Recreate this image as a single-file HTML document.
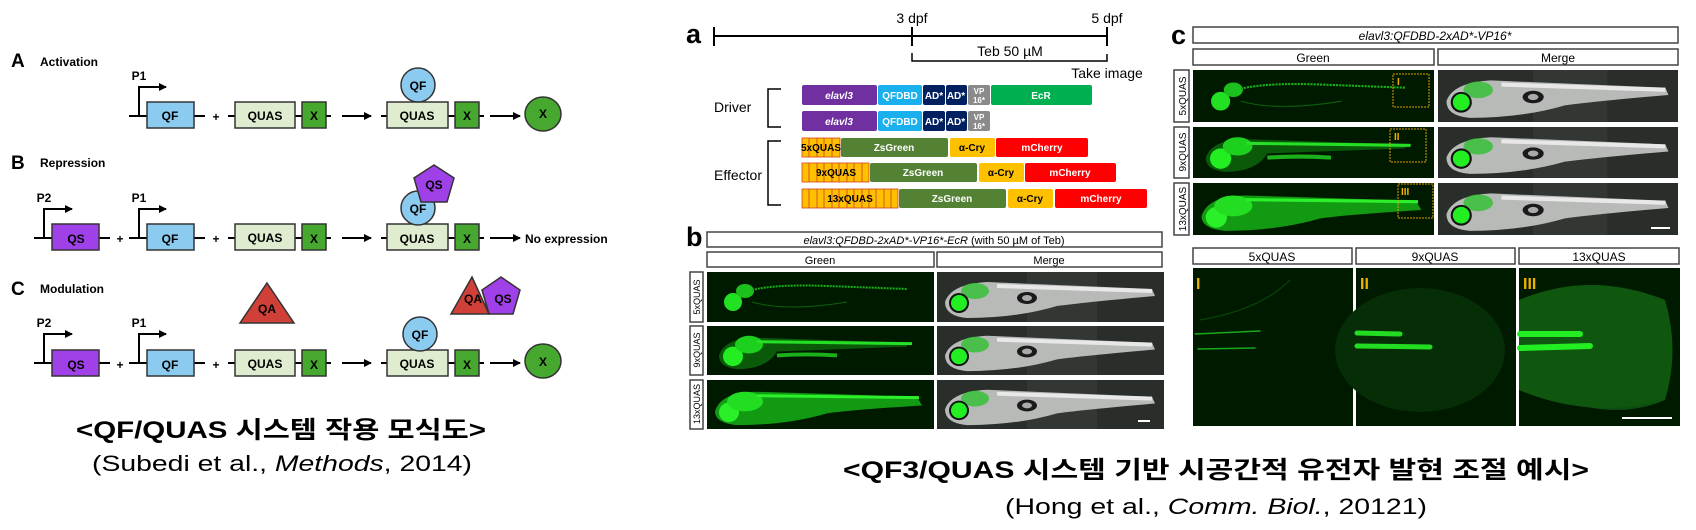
<!DOCTYPE html>
<html><head><meta charset="utf-8"><style>
html,body{margin:0;padding:0;background:#fff;}
svg{display:block;}
.t{font-family:"Liberation Sans","Noto Sans CJK KR",sans-serif;}
.b{font-weight:bold;}
</style></head><body>
<svg width="1696" height="530" viewBox="0 0 1696 530" xmlns="http://www.w3.org/2000/svg" class="t">
<defs>
<marker id="ah" markerWidth="8" markerHeight="8" refX="7" refY="4" orient="auto" markerUnits="userSpaceOnUse"><path d="M0,0 L8,4 L0,8 Z" fill="#000"/></marker>
<symbol id="g5" viewBox="0 0 227 50" preserveAspectRatio="none">
<rect width="227" height="50" fill="#001a00"/>
<circle cx="26" cy="30" r="9" fill="#22e022"/>
<ellipse cx="38" cy="19" rx="9" ry="7" fill="#1cc01c"/>
<path d="M45,18 Q70,12 120,14 L200,17" stroke="#18b018" stroke-width="2" fill="none" stroke-dasharray="2 1"/>
<path d="M45,30 Q80,40 140,30" stroke="#0c600c" stroke-width="1" fill="none"/>
</symbol>
<symbol id="g9" viewBox="0 0 227 50" preserveAspectRatio="none">
<rect width="227" height="50" fill="#001a00"/>
<path d="M12,30 Q18,12 50,12 L200,17 L200,21 Q120,24 70,26 Q60,44 30,44 Q12,42 12,30Z" fill="#0a5a0a"/>
<circle cx="26" cy="31" r="10" fill="#22ee22"/>
<ellipse cx="42" cy="19" rx="14" ry="9" fill="#1ed01e"/>
<path d="M50,16 L205,18" stroke="#26e026" stroke-width="3" fill="none"/>
<path d="M70,30 Q100,28 130,30" stroke="#1cb01c" stroke-width="4" fill="none"/>
</symbol>
<symbol id="g13" viewBox="0 0 227 50" preserveAspectRatio="none">
<rect width="227" height="50" fill="#001a00"/>
<path d="M8,32 Q14,12 50,12 L210,17 L215,26 Q150,30 120,34 Q80,46 30,46 Q8,44 8,32Z" fill="#129a12"/>
<circle cx="22" cy="33" r="10" fill="#2af02a"/>
<ellipse cx="38" cy="22" rx="18" ry="10" fill="#22dd22"/>
<path d="M50,16 L212,18" stroke="#2cf02c" stroke-width="3" fill="none"/>
</symbol>
<symbol id="mg" viewBox="0 0 227 50" preserveAspectRatio="none">
<rect width="227" height="50" fill="#2a2e2a"/>
<rect x="90" width="70" height="50" fill="#333733"/>
<path d="M8,30 Q14,12 50,10 L215,17 L218,24 Q150,30 120,34 Q80,46 30,46 Q8,44 8,30Z" fill="#b8bab8"/>
<path d="M60,14 L215,19" stroke="#e8e8e8" stroke-width="4" fill="none"/>
<ellipse cx="90" cy="26" rx="10" ry="6" fill="#1a1a1a"/>
<ellipse cx="90" cy="26" rx="5" ry="3" fill="#aaa"/>
<ellipse cx="38" cy="19" rx="14" ry="8" fill="#30c030" opacity="0.8"/>
<circle cx="22" cy="31" r="10" fill="#111"/>
<circle cx="22" cy="31" r="8" fill="#22ee22"/>
</symbol>
</defs>

<!-- ===== Left diagram ===== -->
<g class="b">
<text x="11" y="67" font-size="19">A</text><text x="40" y="66" font-size="12">Activation</text>
<text x="11" y="169" font-size="19">B</text><text x="40" y="167" font-size="12">Repression</text>
<text x="11" y="295" font-size="19">C</text><text x="40" y="293" font-size="12">Modulation</text>
</g>

<!-- Row A y=116 -->
<g stroke="#000" stroke-width="2" fill="none">
<path d="M129,116 H147 M194,116 H205 M228,116 H235 M295,116 H302 M326,116 H331 M381,116 H387 M448,116 H455 M479,116 H484"/>
<path d="M139,116 V87 H166" marker-end="url(#ah)"/>
<path d="M342,116 H371" marker-end="url(#ah)"/>
<path d="M490,116 H520" marker-end="url(#ah)"/>
</g>
<g stroke="#333" stroke-width="1.5">
<rect x="147" y="102" width="47" height="26" fill="#8ccbf0"/>
<rect x="235" y="102" width="60" height="26" fill="#dfecd0"/>
<rect x="302" y="102" width="24" height="26" fill="#46a82e"/>
<rect x="387" y="102" width="61" height="26" fill="#dfecd0"/>
<rect x="455" y="102" width="24" height="26" fill="#46a82e"/>
<circle cx="418" cy="85" r="17" fill="#8ccbf0"/>
<ellipse cx="543" cy="114" rx="18" ry="17" fill="#46a82e"/>
</g>
<g class="b" font-size="12" text-anchor="middle">
<text x="139" y="80">P1</text>
<text x="170" y="120">QF</text><text x="216" y="121">+</text>
<text x="265" y="120">QUAS</text><text x="314" y="120">X</text>
<text x="417" y="120">QUAS</text><text x="467" y="120">X</text>
<text x="418" y="90">QF</text><text x="543" y="118">X</text>
</g>

<!-- Row B y=238 -->
<g stroke="#000" stroke-width="2" fill="none">
<path d="M34,238 H52 M99,238 H110 M129,238 H147 M194,238 H205 M228,238 H235 M295,238 H302 M326,238 H331 M381,238 H387 M448,238 H455 M479,238 H484"/>
<path d="M44,238 V209 H72" marker-end="url(#ah)"/>
<path d="M139,238 V209 H166" marker-end="url(#ah)"/>
<path d="M342,238 H371" marker-end="url(#ah)"/>
<path d="M490,238 H520" marker-end="url(#ah)"/>
</g>
<g stroke="#333" stroke-width="1.5">
<rect x="52" y="224" width="47" height="26" fill="#a040e8"/>
<rect x="147" y="224" width="47" height="26" fill="#8ccbf0"/>
<rect x="235" y="224" width="60" height="26" fill="#dfecd0"/>
<rect x="302" y="224" width="24" height="26" fill="#46a82e"/>
<rect x="387" y="224" width="61" height="26" fill="#dfecd0"/>
<rect x="455" y="224" width="24" height="26" fill="#46a82e"/>
<circle cx="418" cy="208" r="17" fill="#8ccbf0"/>
<polygon points="434,165 454,178 447,202 421,202 414,178" fill="#a040e8"/>
</g>
<g class="b" font-size="12" text-anchor="middle">
<text x="44" y="202">P2</text><text x="139" y="202">P1</text>
<text x="76" y="243">QS</text><text x="120" y="243">+</text>
<text x="170" y="243">QF</text><text x="216" y="243">+</text>
<text x="265" y="242">QUAS</text><text x="314" y="243">X</text>
<text x="417" y="243">QUAS</text><text x="467" y="243">X</text>
<text x="418" y="213">QF</text><text x="434" y="189">QS</text>
<text x="525" y="243" text-anchor="start">No expression</text>
</g>

<!-- Row C y=363 -->
<g stroke="#000" stroke-width="2" fill="none">
<path d="M34,363 H52 M99,363 H110 M129,363 H147 M194,363 H205 M228,363 H235 M295,363 H302 M326,363 H331 M381,363 H387 M448,363 H455 M479,363 H484"/>
<path d="M44,363 V334 H72" marker-end="url(#ah)"/>
<path d="M139,363 V334 H166" marker-end="url(#ah)"/>
<path d="M342,363 H371" marker-end="url(#ah)"/>
<path d="M490,363 H520" marker-end="url(#ah)"/>
</g>
<g stroke="#333" stroke-width="1.5">
<rect x="52" y="350" width="47" height="26" fill="#a040e8"/>
<rect x="147" y="350" width="47" height="26" fill="#8ccbf0"/>
<rect x="235" y="350" width="60" height="26" fill="#dfecd0"/>
<rect x="302" y="350" width="24" height="26" fill="#46a82e"/>
<rect x="387" y="350" width="61" height="26" fill="#dfecd0"/>
<rect x="455" y="350" width="24" height="26" fill="#46a82e"/>
<circle cx="420" cy="334" r="17" fill="#8ccbf0"/>
<ellipse cx="543" cy="361" rx="18" ry="17" fill="#46a82e"/>
<polygon points="267,283 294,323 240,323" fill="#d04038"/>
<polygon points="501,277 520,290 513,314 489,314 482,290" fill="#a040e8"/>
<polygon points="472,277 489,314 451,314" fill="#d04038"/>
</g>
<g class="b" font-size="12" text-anchor="middle">
<text x="44" y="327">P2</text><text x="139" y="327">P1</text>
<text x="76" y="369">QS</text><text x="120" y="369">+</text>
<text x="170" y="369">QF</text><text x="216" y="369">+</text>
<text x="265" y="368">QUAS</text><text x="314" y="369">X</text>
<text x="417" y="368">QUAS</text><text x="467" y="369">X</text>
<text x="420" y="339">QF</text><text x="543" y="366">X</text>
<text x="267" y="313">QA</text><text x="473" y="303">QA</text><text x="503" y="303">QS</text>
</g>

<!-- Captions -->
<text x="76" y="438" font-size="24" class="b" textLength="410" lengthAdjust="spacingAndGlyphs">&lt;QF/QUAS 시스템 작용 모식도&gt;</text>
<text x="92" y="471" font-size="22" textLength="380" lengthAdjust="spacingAndGlyphs">(Subedi et al., <tspan font-style="italic">Methods</tspan>, 2014)</text>
<text x="843" y="478" font-size="24" class="b" textLength="746" lengthAdjust="spacingAndGlyphs">&lt;QF3/QUAS 시스템 기반 시공간적 유전자 발현 조절 예시&gt;</text>
<text x="1005" y="514" font-size="22" textLength="422" lengthAdjust="spacingAndGlyphs">(Hong et al., <tspan font-style="italic">Comm. Biol.</tspan>, 20121)</text>

<!-- ===== Panel a ===== -->
<text x="686" y="43" font-size="27" class="b">a</text>
<g stroke="#000" stroke-width="2" fill="none">
<path d="M714,36 H1107 M714,27 V46 M912,27 V46 M1107,27 V46"/>
<path d="M912,53 V61 H1107 V54" stroke-width="1.5"/>
<path d="M781,89 H768 V127 H781" stroke-width="1.5"/>
<path d="M781,141 H768 V205 H781" stroke-width="1.5"/>
</g>
<g font-size="14" text-anchor="middle">
<text x="912" y="23">3 dpf</text><text x="1107" y="23">5 dpf</text>
<text x="1010" y="56">Teb 50 µM</text>
<text x="1107" y="78">Take image</text>
<text x="714" y="112" text-anchor="start">Driver</text>
<text x="714" y="180" text-anchor="start">Effector</text>
</g>
<g>
<rect x="802" y="85" width="75" height="20" rx="2" fill="#7030a0"/>
<rect x="878" y="85" width="44" height="20" rx="2" fill="#1ab0ee"/>
<rect x="923" y="85" width="22" height="20" rx="2" fill="#002060"/>
<rect x="946" y="85" width="21" height="20" rx="2" fill="#002060"/>
<rect x="968" y="85" width="22" height="20" rx="2" fill="#8a8a8a"/>
<rect x="991" y="85" width="101" height="20" rx="2" fill="#00b050"/>
<rect x="802" y="111" width="75" height="20" rx="2" fill="#7030a0"/>
<rect x="878" y="111" width="44" height="20" rx="2" fill="#1ab0ee"/>
<rect x="923" y="111" width="22" height="20" rx="2" fill="#002060"/>
<rect x="946" y="111" width="21" height="20" rx="2" fill="#002060"/>
<rect x="968" y="111" width="22" height="20" rx="2" fill="#8a8a8a"/>
</g>
<g fill="#fff" font-size="10" class="b" text-anchor="middle">
<text x="839" y="99" font-style="italic">elavl3</text><text x="900" y="99">QFDBD</text><text x="934" y="99">AD*</text><text x="956" y="99">AD*</text>
<text x="979" y="94" font-size="8">VP</text><text x="979" y="103" font-size="8">16*</text><text x="1041" y="99">EcR</text>
<text x="839" y="125" font-style="italic">elavl3</text><text x="900" y="125">QFDBD</text><text x="934" y="125">AD*</text><text x="956" y="125">AD*</text>
<text x="979" y="120" font-size="8">VP</text><text x="979" y="129" font-size="8">16*</text>
</g>
<!-- effector rows -->
<g>
<rect x="802" y="138" width="38" height="19" fill="#ffc000" stroke="#d04020" stroke-width="0.8"/>
<path d="M809,138V157M817,138V157M824,138V157M832,138V157" stroke="#d04020" stroke-width="0.8"/>
<rect x="841" y="138" width="107" height="19" rx="2" fill="#548235"/>
<rect x="950" y="138" width="45" height="19" rx="2" fill="#ffc000"/>
<rect x="996" y="138" width="92" height="19" rx="2" fill="#ff0000"/>
<rect x="802" y="163" width="67" height="19" fill="#ffc000" stroke="#d04020" stroke-width="0.8"/>
<path d="M809,163V182M817,163V182M824,163V182M832,163V182M839,163V182M847,163V182M854,163V182M862,163V182" stroke="#d04020" stroke-width="0.8"/>
<rect x="870" y="163" width="107" height="19" rx="2" fill="#548235"/>
<rect x="979" y="163" width="45" height="19" rx="2" fill="#ffc000"/>
<rect x="1025" y="163" width="91" height="19" rx="2" fill="#ff0000"/>
<rect x="802" y="189" width="96" height="19" fill="#ffc000" stroke="#d04020" stroke-width="0.8"/>
<path d="M809,189V208M817,189V208M824,189V208M832,189V208M839,189V208M847,189V208M854,189V208M862,189V208M869,189V208M876,189V208M884,189V208M891,189V208" stroke="#d04020" stroke-width="0.8"/>
<rect x="899" y="189" width="107" height="19" rx="2" fill="#548235"/>
<rect x="1008" y="189" width="45" height="19" rx="2" fill="#ffc000"/>
<rect x="1055" y="189" width="92" height="19" rx="2" fill="#ff0000"/>
</g>
<g font-size="10" class="b" text-anchor="middle">
<text x="821" y="151">5xQUAS</text><text x="836" y="176">9xQUAS</text><text x="850" y="202">13xQUAS</text>
<g fill="#fff"><text x="894" y="151">ZsGreen</text><text x="923" y="176">ZsGreen</text><text x="952" y="202">ZsGreen</text>
<text x="1042" y="151">mCherry</text><text x="1070" y="176">mCherry</text><text x="1101" y="202">mCherry</text></g>
<text x="972" y="151">α-Cry</text><text x="1001" y="176">α-Cry</text><text x="1030" y="202">α-Cry</text>
</g>

<!-- ===== Panel b ===== -->
<text x="686" y="246" font-size="27" class="b">b</text>
<g fill="#fff" stroke="#444" stroke-width="1.5">
<rect x="707" y="232" width="455" height="15"/>
<rect x="707" y="252" width="227" height="15"/>
<rect x="937" y="252" width="225" height="15"/>
<rect x="690" y="272" width="13" height="50"/>
<rect x="690" y="326" width="13" height="49"/>
<rect x="690" y="380" width="13" height="49"/>
</g>
<g font-size="11" text-anchor="middle">
<text x="934" y="244"><tspan font-style="italic">elavl3:QFDBD-2xAD*-VP16*-EcR</tspan> (with 50 µM of Teb)</text>
<text x="820" y="264">Green</text><text x="1049" y="264">Merge</text>
<text transform="translate(700,297) rotate(-90)" font-size="9">5xQUAS</text>
<text transform="translate(700,350) rotate(-90)" font-size="9">9xQUAS</text>
<text transform="translate(700,404) rotate(-90)" font-size="9">13xQUAS</text>
</g>
<use href="#g5" x="707" y="272" width="227" height="50"/>
<use href="#g9" x="707" y="326" width="227" height="49"/>
<use href="#g13" x="707" y="380" width="227" height="49"/>
<use href="#mg" x="937" y="272" width="227" height="50"/>
<use href="#mg" x="937" y="326" width="227" height="49"/>
<use href="#mg" x="937" y="380" width="227" height="49"/>
<rect x="1138" y="420" width="12" height="2" fill="#fff"/>

<!-- ===== Panel c ===== -->
<text x="1171" y="44" font-size="27" class="b">c</text>
<g fill="#fff" stroke="#444" stroke-width="1.5">
<rect x="1193" y="27" width="485" height="16"/>
<rect x="1193" y="49" width="241" height="16"/>
<rect x="1438" y="49" width="240" height="16"/>
<rect x="1174" y="70" width="15" height="52"/>
<rect x="1174" y="127" width="15" height="51"/>
<rect x="1174" y="183" width="15" height="52"/>
<rect x="1193" y="248" width="159" height="16"/>
<rect x="1356" y="248" width="159" height="16"/>
<rect x="1519" y="248" width="160" height="16"/>
</g>
<g font-size="12" text-anchor="middle">
<text x="1435" y="40" font-style="italic">elavl3:QFDBD-2xAD*-VP16*</text>
<text x="1313" y="62">Green</text><text x="1558" y="62">Merge</text>
<text transform="translate(1186,96) rotate(-90)" font-size="10">5xQUAS</text>
<text transform="translate(1186,152) rotate(-90)" font-size="10">9xQUAS</text>
<text transform="translate(1186,209) rotate(-90)" font-size="10">13xQUAS</text>
<text x="1272" y="261">5xQUAS</text><text x="1435" y="261">9xQUAS</text><text x="1599" y="261">13xQUAS</text>
</g>
<use href="#g5" x="1193" y="70" width="241" height="52"/>
<use href="#g9" x="1193" y="127" width="241" height="51"/>
<use href="#g13" x="1193" y="183" width="241" height="52"/>
<use href="#mg" x="1438" y="70" width="240" height="52"/>
<use href="#mg" x="1438" y="127" width="240" height="51"/>
<use href="#mg" x="1438" y="183" width="240" height="52"/>
<rect x="1651" y="227" width="19" height="2" fill="#fff"/>
<g fill="none" stroke="#e0a000" stroke-width="1" stroke-dasharray="2 1">
<rect x="1393" y="74" width="36" height="33"/>
<rect x="1390" y="129" width="36" height="33"/>
<rect x="1398" y="184" width="35" height="34"/>
</g>
<g fill="#f0b000" font-size="10" class="b" font-family="'Liberation Sans',sans-serif">
<text x="1397" y="85">I</text><text x="1394" y="140">II</text><text x="1401" y="195">III</text>
</g>
<!-- bottom zooms -->
<rect x="1193" y="268" width="160" height="158" fill="#001a00"/>
<rect x="1356" y="268" width="160" height="158" fill="#001a00"/>
<rect x="1519" y="268" width="161" height="158" fill="#001a00"/>
<g fill="none" stroke-linecap="round">
<path d="M1195,334 L1260,331 M1198,349 L1255,348" stroke="#18a818" stroke-width="1.5"/>
<path d="M1200,320 Q1260,310 1290,280" stroke="#0a4a0a" stroke-width="1"/>
<path d="M1400,290 Q1460,300 1480,350 Q1460,400 1400,410" stroke="#0c4a0c" stroke-width="1"/>
<ellipse cx="1420" cy="350" rx="85" ry="62" fill="#062e06"/>
<path d="M1357,333 L1400,334 M1357,346 L1430,347" stroke="#22dd22" stroke-width="5"/>
<path d="M1560,345 Q1620,280 1665,300 Q1670,350 1665,400 Q1620,420 1560,400 Z" fill="#0d4d0d"/>
<path d="M1519,300 Q1590,270 1665,300 Q1680,350 1665,400 Q1590,420 1519,390 Z" fill="#0f560f"/>
<path d="M1520,334 L1580,334 M1520,348 L1590,346" stroke="#22ee22" stroke-width="6"/>
</g>
<g fill="#f0b000" font-size="16" class="b">
<text x="1196" y="289">I</text><text x="1360" y="289">II</text><text x="1523" y="289">III</text>
</g>
<rect x="1622" y="417" width="50" height="2" fill="#fff"/>
</svg>
</body></html>
